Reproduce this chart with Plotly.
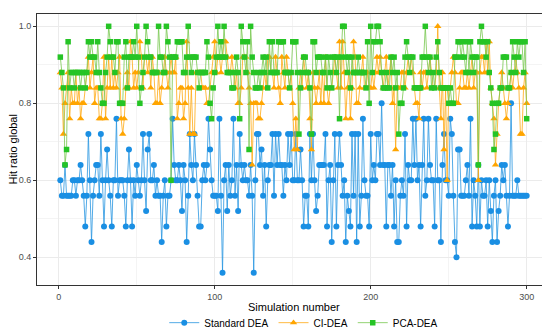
import plotly.graph_objects as go

simulation = list(range(1, 301))

standard_dea = [
    0.6, 0.56, 0.56, 0.64, 0.56, 0.56, 0.56, 0.56, 0.6, 0.6, 0.56, 0.6, 0.6, 0.64, 0.6, 0.56, 0.48, 0.56, 0.72, 0.6, 0.44, 0.56, 0.6, 0.64,
    0.64, 0.56, 0.72, 0.6, 0.48, 0.6, 0.68, 0.6, 0.56, 0.48, 0.6, 0.6, 0.76, 0.56, 0.6, 0.6, 0.6, 0.56, 0.48, 0.6, 0.68, 0.6, 0.48, 0.6, 0.56, 0.64, 0.6,
    0.56, 0.6, 0.72, 0.6, 0.52, 0.68, 0.72, 0.6, 0.6, 0.64, 0.56, 0.6, 0.56, 0.56, 0.44, 0.56, 0.6, 0.48, 0.56, 0.56, 0.6, 0.76, 0.64, 0.6, 0.6, 0.64, 0.6,
    0.52, 0.64, 0.6, 0.44, 0.56, 0.72, 0.64, 0.6, 0.72, 0.64, 0.56, 0.48, 0.48, 0.6, 0.64, 0.6, 0.64, 0.76, 0.68, 0.6, 0.56, 0.56, 0.56, 0.52, 0.76, 0.56, 0.36,
    0.6, 0.64, 0.52, 0.64, 0.56, 0.6, 0.76, 0.56, 0.64, 0.52, 0.72, 0.64, 0.6, 0.64, 0.6, 0.6, 0.56, 0.64, 0.56, 0.36, 0.6, 0.72, 0.72, 0.64, 0.68, 0.56, 0.64,
    0.48, 0.6, 0.64, 0.64, 0.72, 0.56, 0.72, 0.64, 0.72, 0.64, 0.64, 0.56, 0.64, 0.6, 0.72, 0.64, 0.72, 0.6, 0.6, 0.72, 0.6, 0.6, 0.68, 0.6, 0.48, 0.56, 0.56,
    0.48, 0.72, 0.6, 0.72, 0.6, 0.52, 0.56, 0.64, 0.64, 0.64, 0.64, 0.72, 0.48, 0.6, 0.64, 0.44, 0.6, 0.72, 0.48, 0.64, 0.72, 0.64, 0.56, 0.6, 0.44, 0.56, 0.52,
    0.48, 0.72, 0.56, 0.72, 0.44, 0.72, 0.48, 0.56, 0.76, 0.6, 0.56, 0.56, 0.48, 0.72, 0.6, 0.64, 0.6, 0.72, 0.72, 0.64, 0.8, 0.64, 0.64, 0.48, 0.64, 0.64, 0.56,
    0.64, 0.48, 0.6, 0.44, 0.44, 0.56, 0.6, 0.56, 0.72, 0.48, 0.64, 0.6, 0.6, 0.76, 0.64, 0.76, 0.6, 0.64, 0.48, 0.64, 0.76, 0.56, 0.6, 0.76, 0.64, 0.6, 0.6,
    0.48, 0.76, 0.6, 0.6, 0.44, 0.64, 0.72, 0.6, 0.6, 0.56, 0.76, 0.72, 0.56, 0.44, 0.4, 0.68, 0.68, 0.56, 0.56, 0.56, 0.6, 0.64, 0.56, 0.76, 0.48, 0.6, 0.56,
    0.48, 0.64, 0.48, 0.6, 0.56, 0.56, 0.6, 0.48, 0.6, 0.52, 0.44, 0.56, 0.6, 0.44, 0.52, 0.56, 0.64, 0.6, 0.64, 0.56, 0.48, 0.56, 0.8, 0.56, 0.56, 0.56, 0.6,
    0.56, 0.56, 0.56, 0.56, 0.56, 0.56,
]

ci_dea = [
    0.88, 0.84, 0.72, 0.8, 0.84, 0.88, 0.76, 0.84, 0.8, 0.8, 0.88, 0.8, 0.84, 0.76, 0.8, 0.8, 0.84, 0.88, 0.92, 0.84, 0.88, 0.92, 0.8, 0.84,
    0.84, 0.76, 0.76, 0.8, 0.92, 0.76, 0.84, 0.92, 0.84, 0.92, 0.84, 0.88, 0.84, 0.88, 0.92, 0.76, 0.72, 0.76, 0.84, 0.88, 0.84, 0.96, 0.92, 0.84, 0.88, 0.84, 0.88,
    0.96, 0.92, 0.84, 0.92, 0.92, 0.88, 0.92, 0.84, 0.92, 0.88, 0.8, 0.8, 0.88, 0.8, 0.84, 0.88, 0.92, 0.88, 0.84, 0.88, 0.92, 0.88, 0.88, 0.92, 0.76, 0.8, 0.84,
    0.84, 0.76, 0.8, 0.96, 0.84, 0.72, 0.84, 0.72, 0.72, 0.88, 0.88, 0.88, 0.88, 0.84, 0.84, 0.84, 0.8, 0.8, 0.84, 0.88, 0.92, 0.96, 0.88, 0.92, 0.92, 0.88, 0.92,
    0.96, 0.96, 0.92, 0.88, 0.88, 0.92, 0.88, 0.84, 0.88, 0.8, 0.8, 0.84, 0.92, 0.92, 0.92, 0.88, 0.84, 0.8, 0.64, 0.8, 0.8, 0.8, 0.76, 0.76, 0.8, 0.84, 0.88,
    0.84, 0.92, 0.92, 0.88, 0.88, 0.84, 0.92, 0.88, 0.84, 0.8, 0.92, 0.88, 0.84, 0.92, 0.88, 0.84, 0.88, 0.8, 0.68, 0.76, 0.68, 0.84, 0.88, 0.84, 0.92, 0.88, 0.84,
    0.88, 0.76, 0.68, 0.88, 0.84, 0.8, 0.84, 0.88, 0.8, 0.88, 0.8, 0.92, 0.84, 0.8, 0.84, 0.84, 0.88, 0.92, 0.88, 0.84, 0.96, 0.84, 0.96, 0.88, 0.76, 0.84, 0.88,
    0.76, 0.84, 0.96, 0.92, 0.8, 0.8, 0.84, 0.88, 0.92, 0.84, 0.84, 0.88, 0.84, 0.84, 0.88, 0.84, 0.88, 0.92, 0.88, 0.92, 0.88, 0.84, 0.88, 0.92, 0.84, 0.88, 0.92,
    0.8, 0.84, 0.68, 0.84, 0.84, 0.84, 0.88, 0.88, 0.84, 0.88, 0.92, 0.88, 0.92, 0.88, 0.84, 0.8, 0.8, 0.76, 0.88, 0.84, 0.88, 0.88, 0.84, 0.88, 0.92, 0.88, 0.84,
    0.84, 0.88, 1.0, 0.84, 0.76, 0.88, 0.68, 0.84, 0.6, 0.84, 0.84, 0.88, 0.92, 0.88, 0.8, 0.8, 0.84, 0.88, 0.88, 0.84, 0.84, 0.88, 0.84, 0.88, 0.92, 0.84, 0.88,
    0.88, 0.6, 0.88, 0.92, 0.92, 0.88, 0.96, 0.88, 0.96, 0.84, 0.8, 0.76, 0.64, 0.72, 0.8, 0.84, 0.88, 0.84, 0.8, 0.76, 0.8, 0.84, 0.88, 0.84, 0.88, 0.92, 0.88,
    0.84, 0.72, 0.72, 0.84, 0.88, 0.8,
]

pca_dea = [
    0.92, 0.88, 0.84, 0.64, 0.68, 0.96, 0.84, 0.88, 0.88, 0.84, 0.88, 0.88, 0.88, 0.84, 0.88, 0.88, 0.84, 0.88, 0.96, 0.92, 0.96, 0.92, 0.92, 0.88,
    0.96, 0.88, 0.84, 0.8, 0.8, 0.88, 0.92, 1.0, 0.96, 0.92, 0.92, 0.88, 0.96, 0.96, 0.8, 0.8, 0.8, 0.92, 0.96, 0.84, 0.92, 0.92, 0.92, 0.96, 0.92, 1.0, 0.92,
    0.8, 0.84, 0.88, 0.92, 1.0, 0.96, 0.92, 0.92, 0.88, 0.88, 0.88, 0.88, 1.0, 0.92, 0.92, 0.88, 0.88, 1.0, 0.96, 0.92, 0.6, 0.92, 0.92, 0.92, 0.96, 0.96, 0.96,
    0.96, 0.88, 0.88, 0.92, 1.0, 0.92, 0.88, 0.92, 0.92, 0.92, 0.88, 0.84, 0.88, 0.88, 0.88, 0.88, 0.96, 0.92, 0.8, 0.76, 0.84, 0.88, 0.92, 1.0, 0.92, 0.96, 0.92,
    1.0, 0.92, 0.88, 0.88, 0.88, 0.84, 0.84, 0.88, 0.92, 0.88, 0.76, 1.0, 0.96, 0.92, 0.88, 0.96, 0.68, 1.0, 0.92, 0.88, 0.84, 0.84, 0.88, 0.84, 0.88, 0.92, 0.88,
    0.92, 0.84, 0.96, 0.88, 0.96, 0.88, 0.88, 0.88, 0.96, 0.96, 0.96, 0.96, 0.88, 0.88, 0.88, 0.84, 0.88, 0.96, 0.96, 0.96, 0.88, 0.72, 0.84, 0.88, 0.92, 0.92, 0.88,
    0.88, 0.84, 0.72, 0.96, 0.96, 0.88, 0.92, 0.92, 0.92, 0.88, 0.88, 0.92, 0.84, 0.92, 0.88, 0.84, 0.92, 0.92, 0.88, 0.92, 0.76, 0.92, 1.0, 1.0, 0.92, 0.88, 0.92,
    0.84, 0.92, 0.88, 0.88, 0.88, 0.92, 0.88, 0.88, 0.88, 0.88, 0.84, 0.96, 0.8, 1.0, 0.88, 0.96, 0.96, 1.0, 1.0, 0.96, 0.88, 0.84, 0.84, 0.88, 0.84, 0.84, 0.92,
    0.88, 0.92, 0.84, 0.88, 0.72, 0.8, 0.8, 0.84, 0.92, 0.96, 0.92, 0.88, 0.92, 0.92, 0.84, 0.84, 0.84, 0.84, 0.84, 0.92, 0.92, 1.0, 0.92, 0.88, 0.92, 0.84, 0.88,
    0.84, 0.92, 0.96, 0.88, 0.84, 0.84, 0.84, 0.84, 0.84, 0.8, 0.84, 0.8, 0.8, 0.92, 0.92, 0.96, 0.96, 0.92, 0.96, 0.92, 0.88, 0.96, 0.88, 0.96, 0.92, 0.88, 0.92,
    0.92, 0.64, 0.96, 1.0, 0.96, 0.96, 0.92, 0.96, 0.88, 0.84, 0.8, 0.68, 0.72, 0.8, 0.8, 0.84, 0.84, 0.92, 0.92, 0.92, 0.84, 0.84, 0.88, 0.96, 0.92, 0.88, 0.96,
    0.92, 0.96, 0.96, 0.88, 0.96, 0.76,
]

series_names = ["Standard DEA", "CI-DEA", "PCA-DEA"]
x_ticks = [0, 100, 200, 300]
y_ticks = [0.4, 0.6, 0.8, 1.0]

FONT = "Liberation Sans, Arial, sans-serif"

styles = [
    dict(marker="#1A8FE3", line="rgba(40,150,225,0.8)", symbol="circle", size=6),
    dict(marker="#FFA500", line="rgba(255,170,20,0.8)", symbol="triangle-up", size=6.5),
    dict(marker="#25C425", line="rgba(120,200,80,0.8)", symbol="square", size=5.5),
]

fig = go.Figure()
for name, values, st in zip(series_names, [standard_dea, ci_dea, pca_dea], styles):
    fig.add_trace(go.Scatter(
        x=simulation, y=values, name=name, mode="lines+markers",
        line=dict(color=st["line"], width=1),
        marker=dict(color=st["marker"], symbol=st["symbol"], size=st["size"], line=dict(width=0)),
    ))

axis_common = dict(
    showline=True, mirror=True, linecolor="#333333", linewidth=1,
    ticks="outside", ticklen=3, tickcolor="#333333", tickwidth=1,
    showgrid=True, gridcolor="#EBEBEB", gridwidth=1, zeroline=False,
    automargin=False,
    tickfont=dict(family=FONT, size=9, color="#4D4D4D"),
)

fig.update_xaxes(
    range=[-13.95, 314.95], tickvals=x_ticks,
    minor=dict(tickvals=[50, 150, 250], showgrid=True, gridcolor="#F4F4F4", ticks=""),
    **axis_common,
)
fig.update_yaxes(
    range=[0.328, 1.032], tickvals=y_ticks, tickformat=".1f",
    minor=dict(tickvals=[0.5, 0.7, 0.9], showgrid=True, gridcolor="#F4F4F4", ticks=""),
    **axis_common,
)

fig.add_annotation(text="Simulation number", xref="paper", yref="paper", x=0.5, y=-0.082,
                   xanchor="center", yanchor="middle", showarrow=False,
                   font=dict(family=FONT, size=11, color="#000000"))
fig.add_annotation(text="Hit ratio global", xref="paper", yref="paper", x=-0.047, y=0.5,
                   xanchor="center", yanchor="middle", textangle=-90, showarrow=False,
                   font=dict(family=FONT, size=11, color="#000000"))

fig.update_layout(
    width=550, height=335,
    margin=dict(l=29, r=8, t=6, b=49),
    paper_bgcolor="white", plot_bgcolor="white",
    font=dict(family=FONT),
    legend=dict(orientation="h", x=0.52, xanchor="center", y=-0.139, yanchor="middle",
                font=dict(family=FONT, size=10, color="#000000"), tracegroupgap=0),
    showlegend=True,
)

fig.write_html("out.html")
